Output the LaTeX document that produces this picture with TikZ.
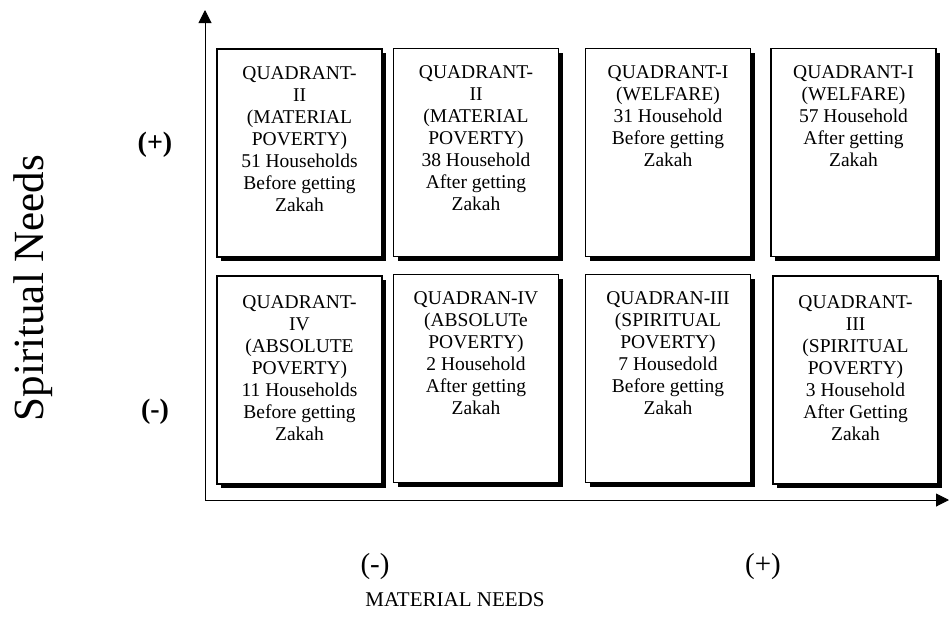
\documentclass[tikz,border=0pt]{standalone}
\usepackage{fontspec}
\setmainfont{Liberation Serif}
\usepackage{tikz}
\usetikzlibrary{arrows.meta, shadows, positioning}

\begin{document}
\begin{tikzpicture}[
    x=1pt, y=-1pt,
    quad/.style={rectangle, draw=black, line width=1.6pt, fill=white, minimum width=165pt, minimum height=208pt, inner sep=0pt, drop shadow={shadow xshift=4pt, shadow yshift=-4pt, opacity=1, fill=black}},
    qtext/.style={anchor=north, align=center, inner sep=0pt, font=\fontsize{19.5}{22}\selectfont},
    axis/.style={line width=1pt, -{Triangle[width=13pt, length=13pt]}},
    sign/.style={font=\fontsize{29}{32}\selectfont},
    axlabel/.style={font=\fontsize{#1}{#1}\selectfont}
]
\useasboundingbox (0,0) rectangle (950,625);

% Axes
\coordinate (o) at (205,500);
\coordinate (ytip) at (205,10);
\coordinate (xtip) at (949,500);
\draw[axis] (o) -- (ytip);
\draw[axis] (o) -- (xtip);

% Quadrant boxes, top row
\node[quad] (q2b) at (299.5,153) {};
\node[quad] (q2a) at (476,152.5) {};
\node[quad] (q1b) at (668,152.5) {};
\node[quad] (q1a) at (853.5,152.5) {};

% Quadrant boxes, bottom row
\node[quad] (q4b) at (299.5,380) {};
\node[quad] (q4a) at (476,378.5) {};
\node[quad] (q3b) at (668,378.5) {};
\node[quad] (q3a) at (855.5,380) {};

% Box texts
\node[qtext, below=18pt of q2b.north] (t2b) {QUADRANT-\\II\\(MATERIAL\\POVERTY)\\51 Households\\Before getting\\Zakah};
\node[qtext, below=18pt of q2a.north] (t2a) {QUADRANT-\\II\\(MATERIAL\\POVERTY)\\38 Household\\After getting\\Zakah};
\node[qtext, below=18pt of q1b.north] (t1b) {QUADRANT-I\\(WELFARE)\\31 Household\\Before getting\\Zakah};
\node[qtext, below=18pt of q1a.north] (t1a) {QUADRANT-I\\(WELFARE)\\57 Household\\After getting\\Zakah};
\node[qtext, below=20pt of q4b.north] (t4b) {QUADRANT-\\IV\\(ABSOLUTE\\POVERTY)\\11 Households\\Before getting\\Zakah};
\node[qtext, below=18pt of q4a.north] (t4a) {QUADRAN-IV\\(ABSOLUTe\\POVERTY)\\2 Household\\After getting\\Zakah};
\node[qtext, below=18pt of q3b.north] (t3b) {QUADRAN-III\\(SPIRITUAL\\POVERTY)\\7 Housedold\\Before getting\\Zakah};
\node[qtext, below=20pt of q3a.north] (t3a) {QUADRANT-\\III\\(SPIRITUAL\\POVERTY)\\3 Household\\After Getting\\Zakah};

% Axis labels
\node[sign, font=\fontsize{28}{32}\selectfont\bfseries] (yplus) at (155,145) {(+)};
\node[sign, font=\fontsize{28}{32}\selectfont\bfseries] (yminus) at (155,412) {(-)};
\node[sign] (xminus) at (375,567) {(-)};
\node[sign] (xplus) at (763,567) {(+)};
\node[axlabel=21] (xlabel) at (455,600) {MATERIAL NEEDS};
\node[axlabel=43, rotate=90] (ylabel) at (33,288) {Spiritual Needs};

\end{tikzpicture}
\end{document}
